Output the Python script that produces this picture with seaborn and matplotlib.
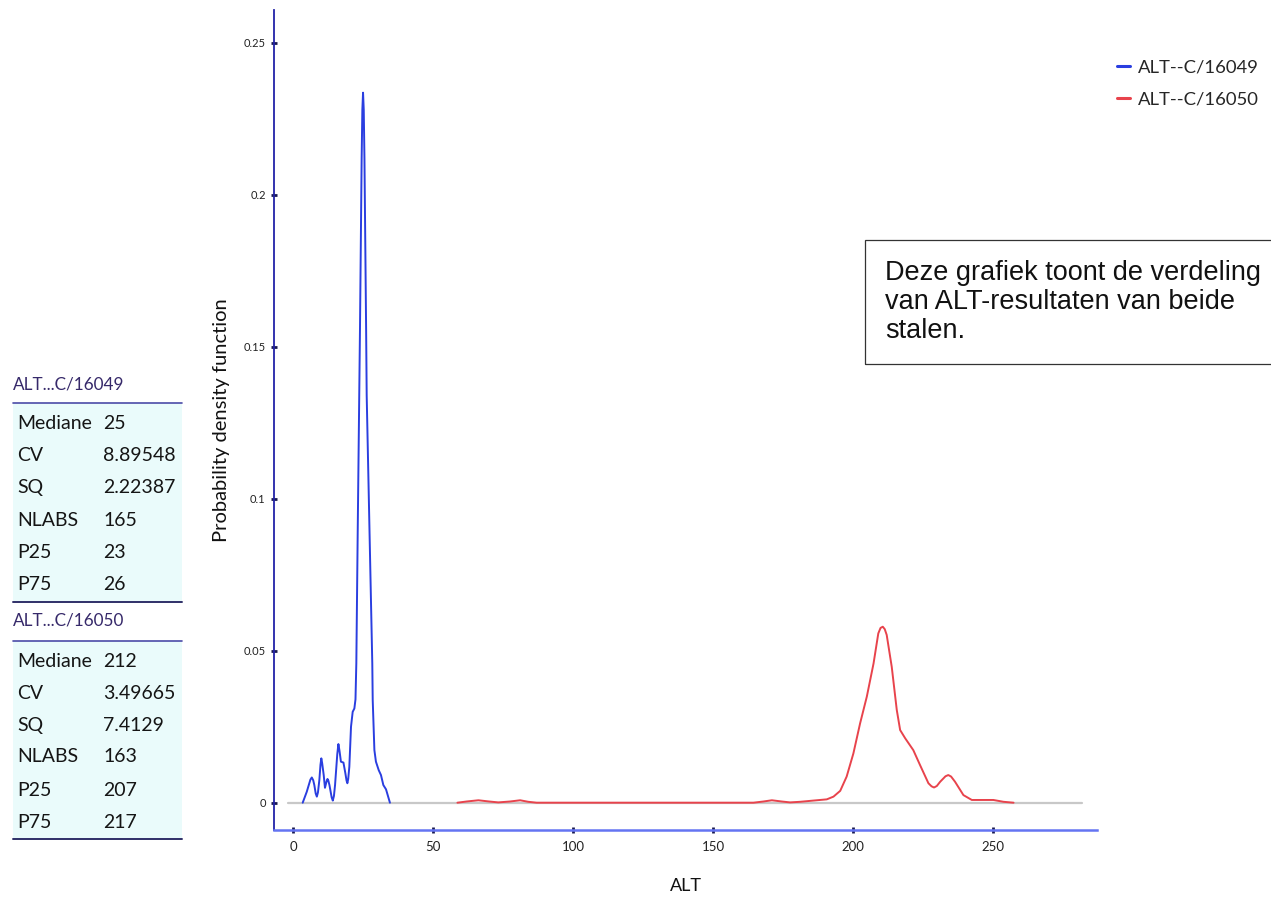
import numpy as np
import pandas as pd
import matplotlib
matplotlib.use("Agg")
import matplotlib.pyplot as plt
from matplotlib.patches import Rectangle
from matplotlib.lines import Line2D
import seaborn as sns

# ---- density curves of the two samples (ALT value, probability density) ----
sample_names = ["ALT--C/16049", "ALT--C/16050"]

alt_16049 = [3.45, 4.9, 6.2, 6.7, 7.2, 7.6, 8.1, 8.5, 8.9, 9.4, 9.8, 10.1, 10.4,
             10.95, 11.4, 12.0, 12.3, 12.6, 13.0, 13.8, 14.2, 14.6, 15.0, 15.8,
             16.2, 16.6, 17.1, 18.0, 18.7, 19.1, 19.4, 19.7, 20.1, 20.7, 21.3,
             21.9, 22.3, 22.6, 23.1, 23.9, 24.5, 24.75, 25.0, 25.25, 25.5, 26.1,
             26.3, 27.3, 28.3, 28.45, 29.05, 29.6, 30.6, 31.4, 32.25, 33.2, 34.6]
pdf_16049 = [0.0, 0.0036, 0.0076, 0.0083, 0.0074, 0.0058, 0.0030, 0.0020, 0.0034,
             0.0075, 0.0125, 0.0146, 0.0130, 0.0091, 0.0049, 0.0071, 0.0078,
             0.0073, 0.0058, 0.0017, 0.0007, 0.0022, 0.0058, 0.0160, 0.0193,
             0.0170, 0.0135, 0.0132, 0.0096, 0.0073, 0.0064, 0.0078, 0.0118,
             0.0250, 0.0299, 0.0310, 0.0340, 0.0459, 0.0897, 0.1555, 0.2120,
             0.2280, 0.2336, 0.2280, 0.2120, 0.1555, 0.1340, 0.0897, 0.0458,
             0.0338, 0.0173, 0.0135, 0.0107, 0.0091, 0.0058, 0.0044, 0.0]

alt_16050 = [58.7, 62.0, 66.2, 70.0, 73.3, 77.5, 81.1, 84.0, 87.0, 164.4, 168.0,
             171.0, 174.5, 177.5, 181.1, 185.8, 190.6, 193.0, 195.4, 197.7, 200.1,
             202.5, 204.9, 207.3, 209.0, 209.8, 210.6, 211.3, 212.0, 213.8, 215.6,
             216.8, 218.6, 221.5, 223.9, 226.9, 228.0, 228.9, 229.9, 231.1, 233.0,
             234.0, 235.0, 236.4, 239.4, 242.4, 245.4, 250.1, 253.7, 257.3]
pdf_16050 = [0.0, 0.0004, 0.0008, 0.0004, 0.0001, 0.0004, 0.0008, 0.0003, 0.0,
             0.0, 0.0004, 0.0008, 0.0004, 0.0001, 0.0003, 0.0007, 0.0011, 0.0020,
             0.0039, 0.0086, 0.0162, 0.0261, 0.0349, 0.0458, 0.0557, 0.0575,
             0.0579, 0.0571, 0.0552, 0.0447, 0.0305, 0.0239, 0.0212, 0.0173,
             0.0124, 0.0064, 0.0054, 0.0050, 0.0055, 0.0069, 0.0087, 0.0091,
             0.0086, 0.0069, 0.0025, 0.0009, 0.0009, 0.0009, 0.0003, 0.0]

baseline_range = [-1.7, 281.8]

x_ticks = [0, 50, 100, 150, 200, 250]
y_ticks = [0, 0.05, 0.1, 0.15, 0.2, 0.25]
y_tick_labels = ["0", "0.05", "0.1", "0.15", "0.2", "0.25"]

# ---- summary statistics shown in the side panel ----
stat_labels = ["Mediane", "CV", "SQ", "NLABS", "P25", "P75"]
stats_16049 = ["25", "8.89548", "2.22387", "165", "23", "26"]
stats_16050 = ["212", "3.49665", "7.4129", "163", "207", "217"]
panel_titles = ["ALT...C/16049", "ALT...C/16050"]

note_text = "Deze grafiek toont de verdeling\nvan ALT-resultaten van beide\nstalen."

line_colors = ["#2a3ee0", "#e8434c"]

sns.set_theme(style="white")
plt.rcParams["font.family"] = ["Lato", "DejaVu Sans"]

W, H = 1271, 897
fig = plt.figure(figsize=(W / 100, H / 100), dpi=100)
ax = fig.add_axes([274 / W, 1 - 830 / H, (1097 - 274) / W, (830 - 10) / H])

df = pd.concat([
    pd.DataFrame({"ALT": alt_16049, "pdf": pdf_16049, "sample": sample_names[0]}),
    pd.DataFrame({"ALT": alt_16050, "pdf": pdf_16050, "sample": sample_names[1]}),
], ignore_index=True)

# zero reference line
ax.plot(baseline_range, [0, 0], color="#c8c8c8", lw=1.6, zorder=1)

sns.lineplot(data=df, x="ALT", y="pdf", hue="sample", palette=line_colors,
             sort=False, estimator=None, lw=1.4, ax=ax, legend=False, zorder=3)
for ln in ax.lines:
    ln.set_solid_joinstyle("round")

ax.set_xlim(-6.8, 287.1)
ax.set_ylim(-0.00898, 0.2608)
ax.set_xticks(x_ticks)
ax.set_xticklabels([str(v) for v in x_ticks], fontsize=9.5, color="#222222")
ax.set_yticks(y_ticks)
ax.set_yticklabels(y_tick_labels, fontsize=8, color="#222222")

for s in ["top", "right"]:
    ax.spines[s].set_visible(False)
ax.spines["left"].set_color("#2323a8")
ax.spines["left"].set_linewidth(1.3)
ax.spines["bottom"].set_color("#6474f2")
ax.spines["bottom"].set_linewidth(1.8)
ax.tick_params(axis="both", which="major", direction="inout", length=4,
               width=2, color="#1a1a50", bottom=True, left=True, pad=4)
ax.tick_params(axis="x", pad=6)

ax.set_xlabel("")
ax.set_ylabel("")
fig.text(222 / W, 1 - 420 / H, "Probability density function", rotation=90,
         ha="center", va="center", fontsize=14.5, color="#111111")
fig.text(686 / W, 1 - 886 / H, "ALT", ha="center", va="center",
         fontsize=13, color="#111111")

# legend
handles = [Line2D([], [], color=c, lw=2.2) for c in line_colors]
fig.legend(handles, sample_names, loc="upper left",
           bbox_to_anchor=(1100 / W, 1 - 43 / H), frameon=False,
           handlelength=0.7, handletextpad=0.45, labelspacing=0.85,
           fontsize=13.3)

# note box
fig.text(885 / W, 1 - 302 / H, note_text, ha="left", va="center",
         fontsize=19.5, family=["Liberation Sans", "DejaVu Sans"],
         linespacing=1.17, color="#111111")
fig.patches.append(Rectangle((865 / W, 1 - 364 / H), (1290 - 865) / W,
                             (364 - 240) / H, transform=fig.transFigure,
                             fill=False, edgecolor="#333333", lw=0.9))

# side panel with summary statistics
def draw_panel(title, values, title_y, line_y, row_ys, bottom_y):
    fig.text(13 / W, 1 - title_y / H, title, ha="left", va="center",
             fontsize=12.3, color="#36296a")
    fig.patches.append(Rectangle((13 / W, 1 - bottom_y / H), (182 - 13) / W,
                                 (bottom_y - line_y) / H,
                                 transform=fig.transFigure,
                                 facecolor="#eafbfb", edgecolor="none"))
    fig.add_artist(Line2D([13 / W, 182 / W], [1 - line_y / H] * 2,
                          color="#4b4ba8", lw=1.2))
    fig.add_artist(Line2D([13 / W, 182 / W], [1 - bottom_y / H] * 2,
                          color="#2f2f68", lw=1.4))
    for lab, val, yy in zip(stat_labels, values, row_ys):
        fig.text(17 / W, 1 - yy / H, lab, ha="left", va="center",
                 fontsize=14, color="#151515")
        fig.text(103 / W, 1 - yy / H, val, ha="left", va="center",
                 fontsize=14, color="#151515")

draw_panel(panel_titles[0], stats_16049, 384, 403,
           [423, 455, 487, 520, 552, 584], 602)
draw_panel(panel_titles[1], stats_16050, 621, 641,
           [661, 693, 725, 757, 790, 822], 839)

fig.savefig("out.png", dpi=100)
